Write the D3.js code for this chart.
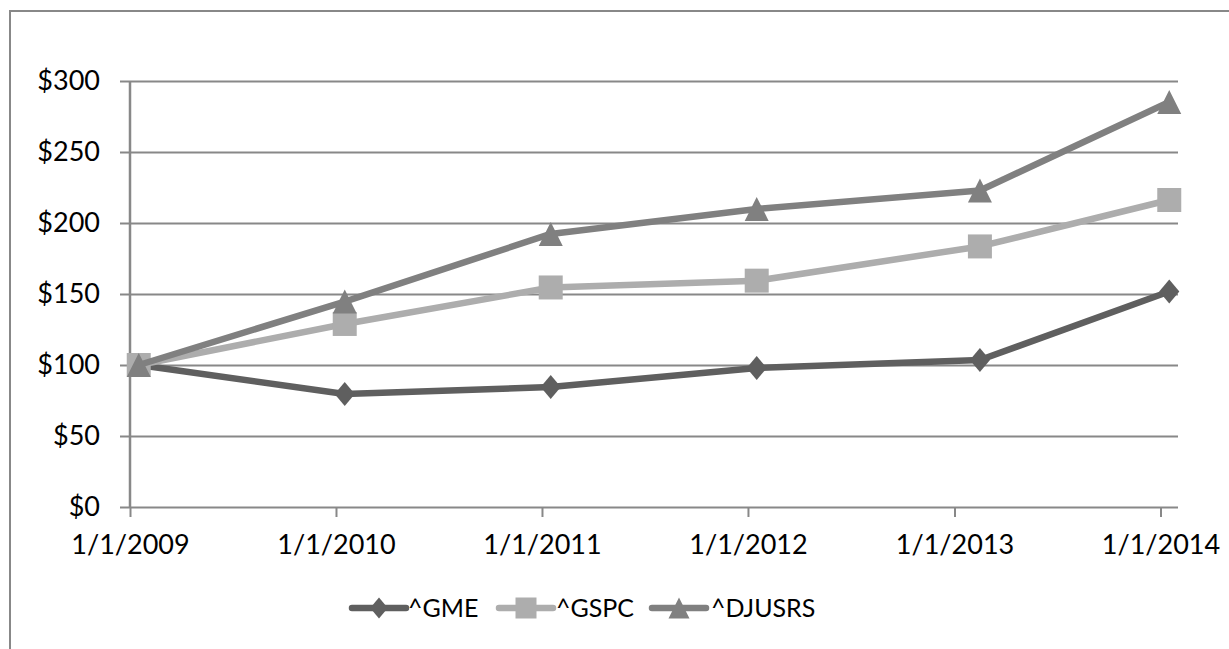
<!DOCTYPE html>
<html>
<head>
<meta charset="utf-8">
<script src="https://cdn.jsdelivr.net/npm/d3@7/dist/d3.min.js"></script>
<style>
  html, body { margin: 0; padding: 0; background: #fff; }
  svg { display: block; }
  text { font-family: Lato, "Open Sans", sans-serif; fill: #000; }
</style>
</head>
<body>
<svg id="chart" width="1229" height="649"></svg>
<script>
// Fiscal-year observation months (one point per month bucket)
const periods = ["2009-01", "2010-01", "2011-01", "2012-01", "2013-02", "2014-01"];

// Cumulative value of $100 invested
const gme    = [100, 79.6, 84.5, 97.9, 103.5, 151.8];
const gspc   = [100, 128.9, 154.6, 159.4, 183.5, 216.2];
const djusrs = [100, 144.7, 192.3, 209.9, 222.9, 285.2];

const seriesNames = ["^GME", "^GSPC", "^DJUSRS"];

const yTickValues = [0, 50, 100, 150, 200, 250, 300];
const xTickDates  = ["2009-01-01", "2010-01-01", "2011-01-01", "2012-01-01", "2013-01-01", "2014-01-01"];
const xTickLabels = ["1/1/2009", "1/1/2010", "1/1/2011", "1/1/2012", "1/1/2013", "1/1/2014"];

const colors = ["#5f5f5f", "#adadad", "#808080"];
const shapes = ["diamond", "square", "triangle"];
const gridColor = "#888888";

const svg = d3.select("#chart");

// chart frame
svg.append("rect")
  .attr("x", 10).attr("y", 11)
  .attr("width", 1240).attr("height", 660)
  .attr("fill", "none").attr("stroke", gridColor).attr("stroke-width", 2);

const plotLeft = 130, plotRight = 1178, plotTop = 81, plotBottom = 507;

const parseMonth = d3.utcParse("%Y-%m");
const parseDay = d3.utcParse("%Y-%m-%d");

const x = d3.scaleUtc()
  .domain([parseDay("2009-01-01"), parseDay("2014-02-01")])
  .range([plotLeft, plotRight]);

const y = d3.scaleLinear().domain([0, 300]).range([plotBottom, plotTop]);

// mid-point of a month bucket
function monthMid(p) {
  const s = parseMonth(p);
  const e = d3.utcMonth.offset(s, 1);
  return new Date((s.getTime() + e.getTime()) / 2);
}

// horizontal gridlines
const gy = svg.append("g")
  .attr("transform", `translate(${plotRight},0)`)
  .call(d3.axisLeft(y).tickValues(yTickValues).tickSize(plotRight - 120).tickFormat(""));
gy.select(".domain").remove();
gy.selectAll("line").attr("stroke", gridColor).attr("stroke-width", 2);

// y tick labels
const gyl = svg.append("g")
  .attr("transform", `translate(120,0)`)
  .call(d3.axisLeft(y).tickValues(yTickValues).tickSize(0).tickPadding(20).tickFormat(d => "$" + d));
gyl.select(".domain").remove();
gyl.selectAll("text").attr("font-size", 27).attr("font-family", "Lato, sans-serif").attr("fill", "#000");

// vertical axis line
svg.append("line")
  .attr("x1", plotLeft).attr("x2", plotLeft)
  .attr("y1", plotTop).attr("y2", plotBottom)
  .attr("stroke", gridColor).attr("stroke-width", 2.5);

// x axis ticks and labels
const gx = svg.append("g")
  .attr("transform", `translate(0,${plotBottom})`)
  .call(d3.axisBottom(x)
    .tickValues(xTickDates.map(parseDay))
    .tickSize(10)
    .tickPadding(18)
    .tickFormat((d, i) => xTickLabels[i]));
gx.select(".domain").remove();
gx.selectAll("line").attr("stroke", gridColor).attr("stroke-width", 2);
gx.selectAll("text").attr("font-size", 27).attr("font-family", "Lato, sans-serif").attr("fill", "#000");

// marker shapes
function markerPath(shape, s) {
  if (shape === "diamond") {
    const w = s * 0.42, h = s * 0.5;
    return `M0,${-h}L${w},0L0,${h}L${-w},0Z`;
  }
  if (shape === "square") {
    const h = s / 2;
    return `M${-h},${-h}H${h}V${h}H${-h}Z`;
  }
  const h = s / 2;
  return `M0,${-h}L${h},${h}L${-h},${h}Z`;
}

const allSeries = [gme, gspc, djusrs].map((vals, i) => ({
  name: seriesNames[i],
  color: colors[i],
  shape: shapes[i],
  points: vals.map((v, j) => ({ date: monthMid(periods[j]), value: v }))
}));

const line = d3.line().x(d => x(d.date)).y(d => y(d.value));

allSeries.forEach(s => {
  const g = svg.append("g");
  g.append("path")
    .attr("d", line(s.points))
    .attr("fill", "none")
    .attr("stroke", s.color)
    .attr("stroke-width", 6.5)
    .attr("stroke-linejoin", "round");
  g.selectAll("path.m")
    .data(s.points)
    .join("path")
    .attr("class", "m")
    .attr("transform", d => `translate(${x(d.date)},${y(d.value)})`)
    .attr("d", markerPath(s.shape, 24))
    .attr("fill", s.color);
});

// legend
const legendItems = [
  { x0: 352, tx: 408 },
  { x0: 499, tx: 556 },
  { x0: 652, tx: 711 }
];
const ly = 608;
allSeries.forEach((s, i) => {
  const it = legendItems[i];
  const g = svg.append("g");
  g.append("line")
    .attr("x1", it.x0).attr("x2", it.x0 + 54)
    .attr("y1", ly).attr("y2", ly)
    .attr("stroke", s.color).attr("stroke-width", 6.5)
    .attr("stroke-linecap", "round");
  g.append("path")
    .attr("transform", `translate(${it.x0 + 27},${ly})`)
    .attr("d", markerPath(s.shape, 21))
    .attr("fill", s.color);
  g.append("text")
    .attr("x", it.tx).attr("y", ly)
    .attr("dy", "0.35em")
    .attr("font-size", 25)
    .text(s.name);
});
</script>
</body>
</html>
